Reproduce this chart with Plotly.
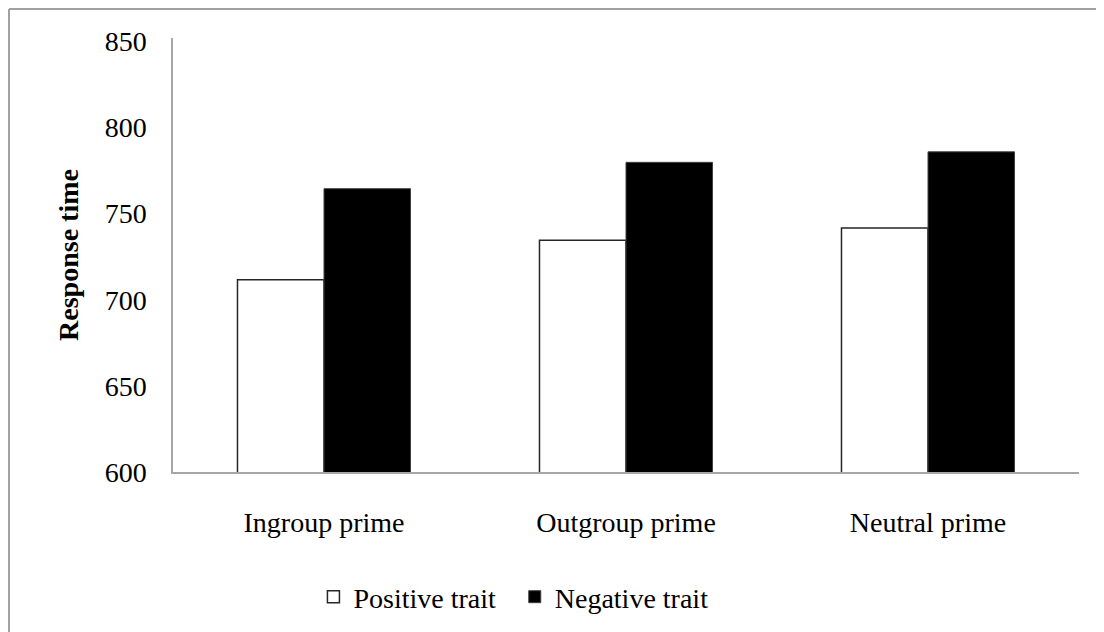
import plotly.graph_objects as go

categories = ["Ingroup prime", "Outgroup prime", "Neutral prime"]
positive_trait = [711.6, 734.5, 741.7]
negative_trait = [764.5, 779.8, 785.9]
y_ticks = [600, 650, 700, 750, 800, 850]

FONT = "Liberation Serif, Times New Roman, serif"
AXIS_GREY = "#a6a6a6"
NBSP = "\u00a0"

fig = go.Figure()
fig.add_trace(
    go.Bar(
        x=categories,
        y=positive_trait,
        name="Positive trait" + NBSP * 2,
        marker=dict(color="white", line=dict(color="#262626", width=1.5)),
    )
)
fig.add_trace(
    go.Bar(
        x=categories,
        y=negative_trait,
        name="Negative trait",
        marker=dict(color="black", line=dict(color="#404040", width=1)),
    )
)

fig.update_layout(
    width=1104,
    height=632,
    barmode="group",
    bargap=0.427,
    bargroupgap=0,
    paper_bgcolor="white",
    plot_bgcolor="white",
    font=dict(family=FONT, size=28, color="black"),
    margin=dict(l=165, r=33, t=30, b=168, autoexpand=False),
    showlegend=True,
    legend=dict(
        orientation="h",
        x=0.155,
        xanchor="left",
        y=-0.288,
        yanchor="middle",
        font=dict(family=FONT, size=28, color="black"),
        itemwidth=30,
        bgcolor="rgba(0,0,0,0)",
    ),
    xaxis=dict(
        showline=True,
        linecolor=AXIS_GREY,
        linewidth=1.5,
        showgrid=False,
        ticks="",
        ticklabelstandoff=25,
        tickfont=dict(family=FONT, size=28, color="black"),
        fixedrange=True,
    ),
    yaxis=dict(
        range=[600, 852],
        tickvals=y_ticks,
        showline=True,
        linecolor=AXIS_GREY,
        linewidth=1.5,
        showgrid=False,
        zeroline=False,
        ticks="",
        ticklabelstandoff=19,
        tickfont=dict(family=FONT, size=28, color="black"),
        title=dict(
            text="<b>Response time</b>",
            font=dict(family=FONT, size=28, color="black"),
            standoff=18,
        ),
        fixedrange=True,
    ),
    shapes=[
        # outer frame (only the top and left edges show in the reference)
        dict(type="line", xref="paper", yref="paper", x0=-0.181, x1=1.05, y0=1.067, y1=1.067,
             line=dict(color="#a0a0a0", width=2)),
        dict(type="line", xref="paper", yref="paper", x0=-0.181, x1=-0.181, y0=1.067, y1=-0.4,
             line=dict(color="#a0a0a0", width=2)),
    ],
)

fig.write_html("out.html")
